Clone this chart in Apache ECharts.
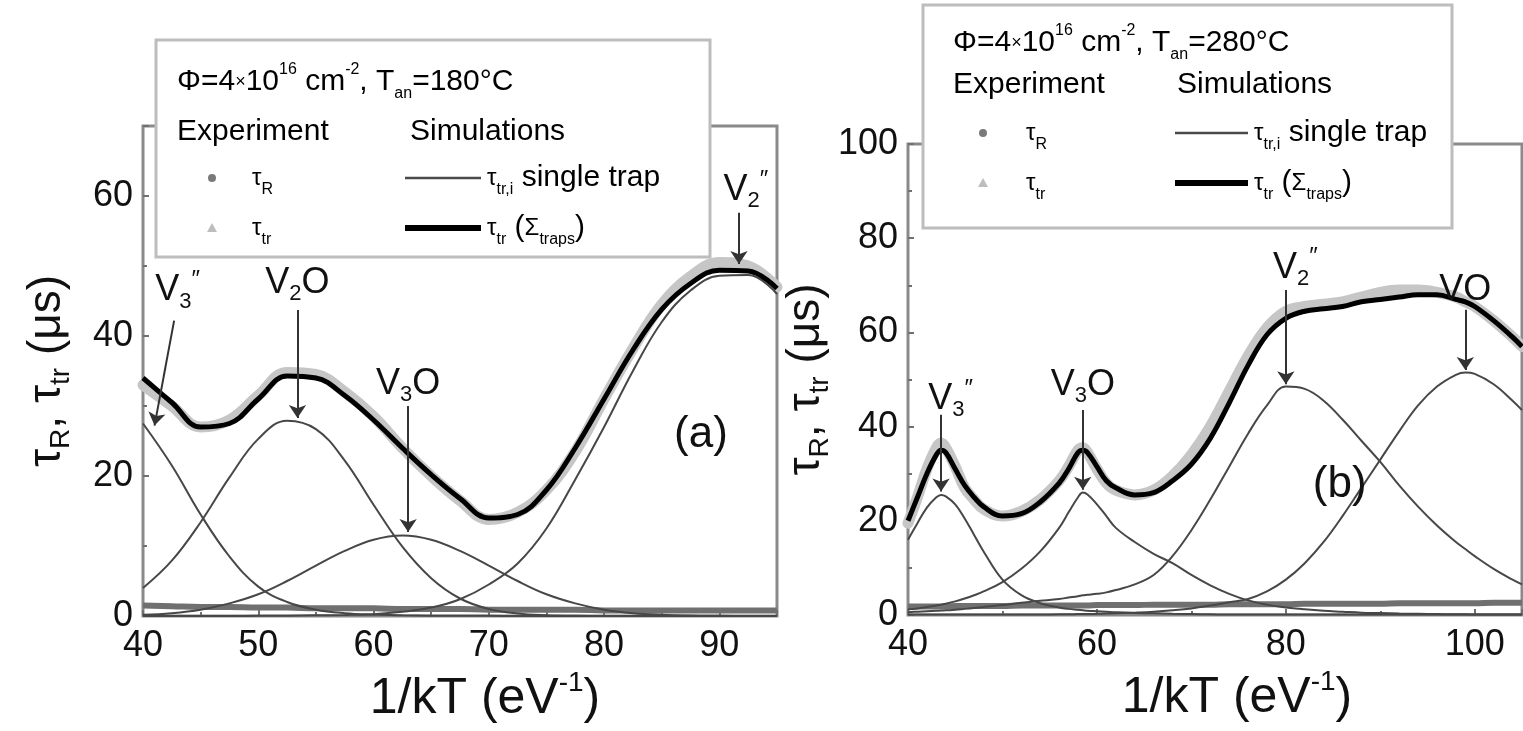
<!DOCTYPE html>
<html>
<head>
<meta charset="utf-8">
<script src="https://cdn.jsdelivr.net/npm/echarts@6/dist/echarts.min.js"></script>
<style>
html,body{margin:0;padding:0;background:#fff;}
#c{width:1523px;height:731px;}
</style>
</head>
<body>
<div id="c"></div>
<script>
// ---------------- DATA: panel (a), Tan = 180 C ----------------
const aX      = [40,42.5,45,47.5,50,52.5,55,57.5,60,62.5,65,67.5,70,72.5,75,77.5,80,82.5,85,87.5,90,92.5,95];
const aV3pp   = [27.5,21.5,14.5,8.5,4.2,2.0,0.9,0.4,0.2,0.1,0.05,0.03,0.02,0.01,0,0,0,0,0,0,0,0,0];
const aV2O    = [4.0,7.9,13.4,19.8,25.3,27.9,26.7,22.2,15.9,9.9,5.4,2.5,1.0,0.35,0.1,0.03,0,0,0,0,0,0,0];
const aV3O    = [0.17,0.4,0.9,1.8,3.1,5.0,7.2,9.3,10.9,11.5,10.9,9.3,7.2,5.0,3.1,1.8,0.9,0.4,0.17,0.06,0.02,0,0];
const aV2pp   = [0,0,0,0,0.02,0.05,0.1,0.15,0.26,0.6,1.2,2.4,4.5,7.5,12.5,19.5,27,35,42,46.5,48.6,48.7,46.0];
const aTotal  = [34,30.5,27,27.5,31,34.3,34,31.5,28,24,20.2,16.8,14,14.5,18,24,31,38,43.8,47.5,49.4,49.3,46.8];
const aExpTr  = [33,30,27,28,31.5,34.8,34.5,32,28.5,24,20,16.5,13.8,14.8,18,23.5,31,38.2,44.5,48.5,50.5,50,47];
const aExpR   = [1.5,1.4,1.3,1.3,1.2,1.2,1.1,1.1,1.1,1.0,1.0,1.0,0.9,0.9,0.9,0.9,0.8,0.8,0.8,0.8,0.8,0.8,0.8];
const aXTicks = [40,50,60,70,80,90];
const aYTicks = [0,20,40,60];

// ---------------- DATA: panel (b), Tan = 280 C ----------------
const bX      = [40,41,42,43,43.5,44,45,46,47,48, 50,52,54,56,57,58,58.5,59,60,61, 62,64,66,68,70,72,74,76,78,80, 82,84,86,88,90,92,94,96,98,99, 100,102,104,105];
const bV3pp   = [16,19.5,22.8,25,25.5,25.2,23.5,20.5,17,13.5, 7.5,4.2,2.5,1.6,1.3,1.1,1.0,0.9,0.8,0.7, 0.6,0.45,0.35,0.25,0.2,0.15,0.1,0.1,0.1,0.1, 0.1,0.1,0.1,0.1,0.1,0.1,0.1,0.1,0.1,0.1, 0.1,0.1,0.1,0.1];
const bV3O    = [1.2,1.4,1.7,2.0,2.2,2.4,2.9,3.5,4.2,5.0, 7.0,9.8,13.5,18.5,21.8,25,26,25.6,23.5,21, 18.5,15.5,13,11,8.5,6.3,4.5,3.1,2.2,1.6, 1.2,0.9,0.7,0.5,0.4,0.3,0.25,0.2,0.15,0.15, 0.1,0.1,0.1,0.1];
const bV2pp   = [0.6,0.7,0.8,0.9,0.95,1.0,1.1,1.3,1.5,1.7, 2.1,2.6,3.0,3.4,3.7,4.0,4.2,4.3,4.5,4.8, 5.3,6.5,8.5,12.5,18,24.5,31.5,38.5,44.5,48.5, 48,45.5,41.5,37,32.5,27.5,23,19,15.5,14, 12.5,9.8,7.5,6.5];
const bVO     = [0.1,0.1,0.1,0.1,0.1,0.1,0.1,0.1,0.1,0.1, 0.1,0.1,0.1,0.15,0.15,0.2,0.2,0.2,0.25,0.3, 0.35,0.5,0.7,1.0,1.4,2.0,2.7,3.4,5.0,7.5, 11,15.5,21,27,33,39,44.5,48.5,51,51.5, 51.2,49,45.5,43.5];
const bTotal  = [20,25,30,34,35,34.5,31,27.5,25,23, 21,21.5,24,28,31,34.5,35,34.5,31.5,28.5, 27,25.5,26,28.5,32,37.5,45,53,59.5,63, 64.5,65,65.5,66.5,67,67.5,68,68,67,66.5, 65.5,62.5,59,57];
const bExpTr  = [19.5,25,31,35.5,36.5,35.5,31.5,27,24.5,22.5, 21,22,24.5,28.5,31.5,35,35.5,34.5,31,28, 26.5,25.5,26.5,29.5,34,40,47.5,55,61,64.5, 65.5,66,66.5,67.5,68.5,69,69,68.5,67.5,66.5, 65.5,62.5,59,57];
const bExpR   = [1.8,1.8,1.8,1.8,1.8,1.8,1.9,1.9,1.9,1.9, 1.9,2.0,2.0,2.0,2.0,2.0,2.0,2.0,2.1,2.1, 2.1,2.1,2.2,2.2,2.2,2.2,2.3,2.3,2.3,2.3, 2.4,2.4,2.4,2.4,2.4,2.5,2.5,2.5,2.5,2.5, 2.5,2.6,2.6,2.6];
const bXTicks = [40,60,80,100];
const bYTicks = [0,20,40,60,80,100];

// Annotations: label text, label point and arrow (from -> to) in data units
const aNotes = [
  {txt:'{v|V}{sub|3}{sup|″}', at:[43.0,46.5], from:[42.7,42.2], to:[41.0,27.2]},
  {txt:'{v|V}{sub|2}{v|O}',   at:[53.4,47.6], from:[53.4,43.7], to:[53.4,28.3]},
  {txt:'{v|V}{sub|3}{v|O}',   at:[63.0,33.2], from:[63.0,30.0], to:[63.0,12.0]},
  {txt:'{v|V}{sub|2}{sup|″}', at:[92.3,60.8], from:[91.7,57.6], to:[91.7,50.3]},
  {txt:'{p|(a)}',             at:[88.4,25.9]}
];
const bNotes = [
  {txt:'{v|V}{sub|3}{sup|″}', at:[44.5,45.8], from:[43.5,42.5], to:[43.5,26.2]},
  {txt:'{v|V}{sub|3}{v|O}',   at:[58.5,48.8], from:[58.5,43.5], to:[58.5,26.6]},
  {txt:'{v|V}{sub|2}{sup|″}', at:[81.0,73.7], from:[80.0,69.0], to:[80.0,49.0]},
  {txt:'{v|VO}',              at:[99.0,69.0], from:[99.0,64.8], to:[99.0,52.0]},
  {txt:'{p|(b)}',             at:[85.7,27.6]}
];

// ---------------- STYLE ----------------
const FONT = 'Liberation Sans, Arial, Helvetica, sans-serif';
const zip = (xs, ys) => xs.map((x, i) => [x, ys[i]]);
const noteRich = {
  v:{fontSize:36, fontFamily:FONT, color:'#111', lineHeight:44},
  sub:{fontSize:22, fontFamily:FONT, color:'#111', verticalAlign:'bottom'},
  sup:{fontSize:24, fontFamily:FONT, color:'#111', verticalAlign:'top'},
  p:{fontSize:44, fontFamily:FONT, color:'#111', lineHeight:50}
};

function panelSeries(idx, X, traps, total, expTr, expR, notes) {
  const s = [];
  s.push({type:'line', xAxisIndex:idx, yAxisIndex:idx, data:zip(X, expTr), smooth:0.4, showSymbol:false,
          lineStyle:{color:'#c6c6c6', width:11, cap:'round', join:'round'}, z:1, silent:true});
  s.push({type:'line', xAxisIndex:idx, yAxisIndex:idx, data:zip(X, expR), smooth:0.4, showSymbol:false,
          lineStyle:{color:'#707070', width:6}, z:2, silent:true});
  traps.forEach(t => s.push({type:'line', xAxisIndex:idx, yAxisIndex:idx, data:zip(X, t), smooth:0.4, showSymbol:false,
          lineStyle:{color:'#474747', width:2}, z:3, silent:true}));
  s.push({type:'line', xAxisIndex:idx, yAxisIndex:idx, data:zip(X, total), smooth:0.4, showSymbol:false,
          lineStyle:{color:'#000', width:5}, z:4, silent:true,
          markLine:{silent:true, symbol:['none','arrow'], symbolSize:13, label:{show:false},
            lineStyle:{color:'#333', width:2, type:'solid'},
            data: notes.filter(n => n.from).map(n => [{coord:n.from}, {coord:n.to}])},
          markPoint:{silent:true, symbol:'circle', symbolSize:1, itemStyle:{color:'rgba(0,0,0,0)'},
            data: notes.map(n => ({coord:n.at, label:{show:true, position:'inside', formatter:n.txt, rich:noteRich}}))}
  });
  return s;
}

const tickLabel = {fontSize:36, fontFamily:FONT, color:'#111'};
function xAx(idx, min, max, interval, padLeft, showMax) {
  return {type:'value', gridIndex:idx, min, max, interval,
    name:'{t|1/kT (eV}{sup|-1}{t|)}', nameLocation:'middle', nameGap:44,
    nameTextStyle:{padding:[0,0,0,padLeft], rich:{
      t:{fontSize:50, fontFamily:FONT, color:'#111', lineHeight:60},
      sup:{fontSize:28, fontFamily:FONT, color:'#111', verticalAlign:'top'}}},
    axisLine:{show:false}, splitLine:{show:false},
    axisTick:{inside:true, length:6, lineStyle:{color:'#707070', width:2}},
    minorTick:{show:true, splitNumber:2, length:4, lineStyle:{color:'#707070', width:2}},
    axisLabel:Object.assign({margin:12, showMaxLabel:showMax}, tickLabel)};
}
function yAx(idx, min, max, interval, gap, showMax) {
  return {type:'value', gridIndex:idx, min, max, interval,
    name:'{t|τ}{s|R}{t|, τ}{s|tr}{t| (μs)}', nameLocation:'middle', nameGap:gap, nameRotate:90,
    nameTextStyle:{rich:{
      t:{fontSize:46, fontFamily:FONT, color:'#111', lineHeight:56},
      s:{fontSize:28, fontFamily:FONT, color:'#111', verticalAlign:'bottom'}}},
    axisLine:{show:false}, splitLine:{show:false},
    axisTick:{inside:true, length:6, lineStyle:{color:'#707070', width:2}},
    minorTick:{show:true, splitNumber:2, length:4, lineStyle:{color:'#707070', width:2}},
    axisLabel:Object.assign({margin:10, showMaxLabel:showMax}, tickLabel)};
}

// Legend boxes drawn as graphics (layout only)
const legRich = {
  m:{fontSize:30, fontFamily:FONT, color:'#111', lineHeight:40},
  x:{fontSize:18, fontFamily:FONT, color:'#111', lineHeight:40},
  sub:{fontSize:16, fontFamily:FONT, color:'#111', verticalAlign:'bottom'},
  sup:{fontSize:16, fontFamily:FONT, color:'#111', verticalAlign:'top'},
  g:{fontSize:24, fontFamily:FONT, color:'#111', lineHeight:40}
};
function legend(L) {
  const T = (x, y, text) => ({type:'text', x, y, style:{text, rich:legRich, verticalAlign:'middle', align:'left'}});
  return {type:'group', z:100, children:[
    {type:'rect', shape:{x:L.bx, y:L.by, width:L.bw, height:L.bh}, style:{fill:'#fff', stroke:'#bdbdbd', lineWidth:3}},
    T(L.tx, L.ty, '{m|Φ=4}{x|×}{m|10}{sup|16}{m| cm}{sup|-2}{m|, T}{sub|an}{m|=' + L.temp + '°C}'),
    T(L.tx, L.ey, '{m|Experiment}'),
    T(L.sx, L.ey, '{m|Simulations}'),
    {type:'circle', shape:{cx:L.mx, cy:L.r1, r:4}, style:{fill:'#7a7a7a'}},
    T(L.tau, L.r1, '{g|τ}{sub|R}'),
    {type:'line', shape:{x1:L.l1, y1:L.r1, x2:L.l2, y2:L.r1}, style:{stroke:'#4a4a4a', lineWidth:2.5}},
    T(L.l2 + 6, L.r1, '{g|τ}{sub|tr,i}{m| single trap}'),
    {type:'polygon', shape:{points:[[L.mx, L.r2-5],[L.mx-5, L.r2+4],[L.mx+5, L.r2+4]]}, style:{fill:'#bdbdbd'}},
    T(L.tau, L.r2, '{g|τ}{sub|tr}'),
    {type:'line', shape:{x1:L.l1, y1:L.r2, x2:L.l2, y2:L.r2}, style:{stroke:'#000', lineWidth:6}},
    T(L.l2 + 6, L.r2, '{g|τ}{sub|tr}{m| (}{g|Σ}{sub|traps}{m|)}')
  ]};
}

const option = {
  animation:false,
  backgroundColor:'#fff',
  grid:[
    {left:143, top:126, width:634, height:490, show:true, borderColor:'#8a8a8a', borderWidth:3, backgroundColor:'transparent'},
    {left:908, top:144, width:614, height:471, show:true, borderColor:'#8a8a8a', borderWidth:3, backgroundColor:'transparent'}
  ],
  xAxis:[ xAx(0, aXTicks[0], 95, 10, 50, false), xAx(1, bXTicks[0], 105, 20, 44, false) ],
  yAxis:[ yAx(0, aYTicks[0], 70, 20, 68, false), yAx(1, bYTicks[0], bYTicks[bYTicks.length-1], 20, 60, true) ],
  series:[].concat(
    panelSeries(0, aX, [aV3pp, aV2O, aV3O, aV2pp], aTotal, aExpTr, aExpR, aNotes),
    panelSeries(1, bX, [bV3pp, bV3O, bV2pp, bVO], bTotal, bExpTr, bExpR, bNotes)
  ),
  graphic:[
    legend({bx:156, by:40, bw:554, bh:217, tx:177, ty:82, ey:132, sx:410, mx:212, tau:252, l1:405, l2:481, r1:178, r2:228, temp:'180'}),
    legend({bx:923, by:5, bw:529, bh:223, tx:953, ty:43, ey:85, sx:1177, mx:983, tau:1026, l1:1175, l2:1248, r1:133, r2:183, temp:'280'})
  ]
};

const chart = echarts.init(document.getElementById('c'), null, {renderer:'canvas'});
chart.setOption(option);
</script>
</body>
</html>
